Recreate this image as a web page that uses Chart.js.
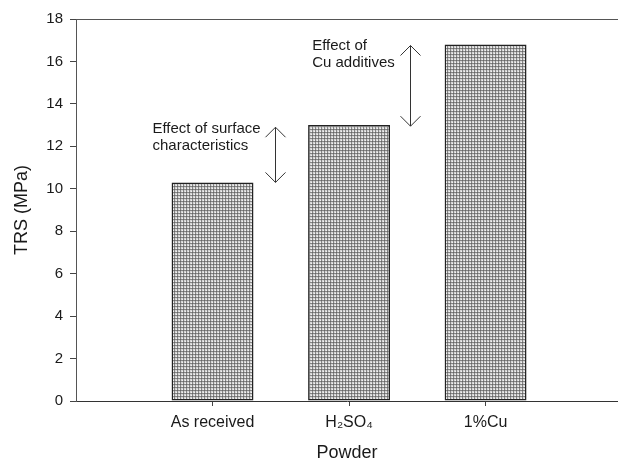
<!DOCTYPE html>
<html>
<head>
<meta charset="utf-8">
<script src="https://cdn.jsdelivr.net/npm/chart.js@4.4.1/dist/chart.umd.min.js"></script>
<style>
  html, body { margin: 0; padding: 0; background: #fff; }
  #wrap { width: 618px; height: 464px; }
</style>
</head>
<body>
<div id="wrap"><canvas id="trs-chart"></canvas></div>
<script>
// chart values
const categories = ['As received', 'H\u2082SO\u2084', '1%Cu'];
const positions = [1, 2, 3];
const trsValues = [10.3, 13.0, 16.8];
const yTicks = [0, 2, 4, 6, 8, 10, 12, 14, 16, 18];

// annotations (data coords)
const arrowX = [1.46, 2.45];
const arrowFrom = [10.3, 12.95];
const arrowTo = [12.9, 16.75];
const noteX = [0.56, 1.73];
const noteY = [12.63, 16.52];
const noteLines = [
  ['Effect of surface', 'characteristics'],
  ['Effect of', 'Cu additives'],
];

const FONT = 'Arial, "Liberation Sans", sans-serif';

function makePattern() {
  const tile = document.createElement('canvas');
  tile.width = 3;
  tile.height = 3;
  const c = tile.getContext('2d');
  c.fillStyle = '#d6d6d6';
  c.fillRect(0, 0, 3, 3);
  c.fillStyle = '#858585';
  c.fillRect(0, 0, 3, 1);
  c.fillRect(0, 0, 1, 3);
  c.fillStyle = '#666';
  c.fillRect(0, 0, 1, 1);
  c.fillStyle = '#f2f2f2';
  c.fillRect(2, 2, 1, 1);
  return document.getElementById('trs-chart').getContext('2d').createPattern(tile, 'repeat');
}

const annotations = {
  id: 'annotations',
  afterDatasetsDraw(chart) {
    const { ctx, chartArea, scales: { x, y } } = chart;
    ctx.save();
    // top frame line
    ctx.strokeStyle = '#555';
    ctx.lineWidth = 1;
    ctx.beginPath();
    ctx.moveTo(chartArea.left, chartArea.top + 0.5);
    ctx.lineTo(chartArea.right, chartArea.top + 0.5);
    ctx.stroke();

    // double headed arrows
    ctx.strokeStyle = '#333';
    arrowX.forEach((ax, i) => {
      const px = Math.round(x.getPixelForValue(ax)) + 0.5;
      const top = y.getPixelForValue(arrowTo[i]);
      const bot = y.getPixelForValue(arrowFrom[i]);
      ctx.beginPath();
      ctx.moveTo(px, top);
      ctx.lineTo(px, bot);
      ctx.moveTo(px - 10, top + 10);
      ctx.lineTo(px, top);
      ctx.lineTo(px + 10, top + 10);
      ctx.moveTo(px - 10, bot - 10);
      ctx.lineTo(px, bot);
      ctx.lineTo(px + 10, bot - 10);
      ctx.stroke();
    });

    // notes
    ctx.fillStyle = '#1a1a1a';
    ctx.font = '15px ' + FONT;
    ctx.textBaseline = 'alphabetic';
    ctx.textAlign = 'left';
    noteLines.forEach((lines, i) => {
      const px = x.getPixelForValue(noteX[i]);
      const py = y.getPixelForValue(noteY[i]);
      lines.forEach((t, j) => ctx.fillText(t, px, py + j * 17));
    });
    ctx.restore();
  },
};

new Chart('trs-chart', {
  type: 'bar',
  data: {
    datasets: [{
      data: positions.map((p, i) => ({ x: p, y: trsValues[i] })),
      backgroundColor: makePattern(),
      borderColor: '#222',
      borderWidth: 1.5,
      borderSkipped: false,
      barPercentage: 0.6,
      categoryPercentage: 1,
    }],
  },
  options: {
    responsive: true,
    maintainAspectRatio: false,
    animation: false,
    layout: { padding: { top: 19, right: 0, left: 0, bottom: 0 } },
    plugins: { legend: { display: false }, tooltip: { enabled: false } },
    scales: {
      x: {
        type: 'linear',
        min: 0,
        max: 3.97,
        offset: false,
        afterFit: scale => { scale.height = 63; },
        afterBuildTicks: scale => { scale.ticks = positions.map(v => ({ value: v })); },
        ticks: {
          color: '#1a1a1a',
          font: { family: FONT, size: 16 },
          padding: 7,
          maxRotation: 0,
          callback: v => categories[positions.indexOf(v)] || '',
        },
        grid: { offset: false, drawOnChartArea: false, tickLength: 5, tickColor: '#444' },
        border: { color: '#333', width: 1 },
        title: {
          display: true,
          text: 'Powder',
          color: '#1a1a1a',
          font: { family: FONT, size: 18 },
          padding: { top: 0, bottom: 0 },
        },
      },
      y: {
        min: 0,
        max: 18,
        afterFit: scale => { scale.width = 76; },
        afterBuildTicks: scale => { scale.ticks = yTicks.map(v => ({ value: v })); },
        ticks: {
          color: '#1a1a1a',
          font: { family: FONT, size: 15 },
          padding: 7,
        },
        grid: { drawOnChartArea: false, tickLength: 6, tickColor: '#444' },
        border: { color: '#555', width: 1 },
        title: {
          display: true,
          text: 'TRS (MPa)',
          color: '#1a1a1a',
          font: { family: FONT, size: 18 },
          padding: { top: 11, bottom: 0 },
        },
      },
    },
  },
  plugins: [annotations],
});
</script>
</body>
</html>
